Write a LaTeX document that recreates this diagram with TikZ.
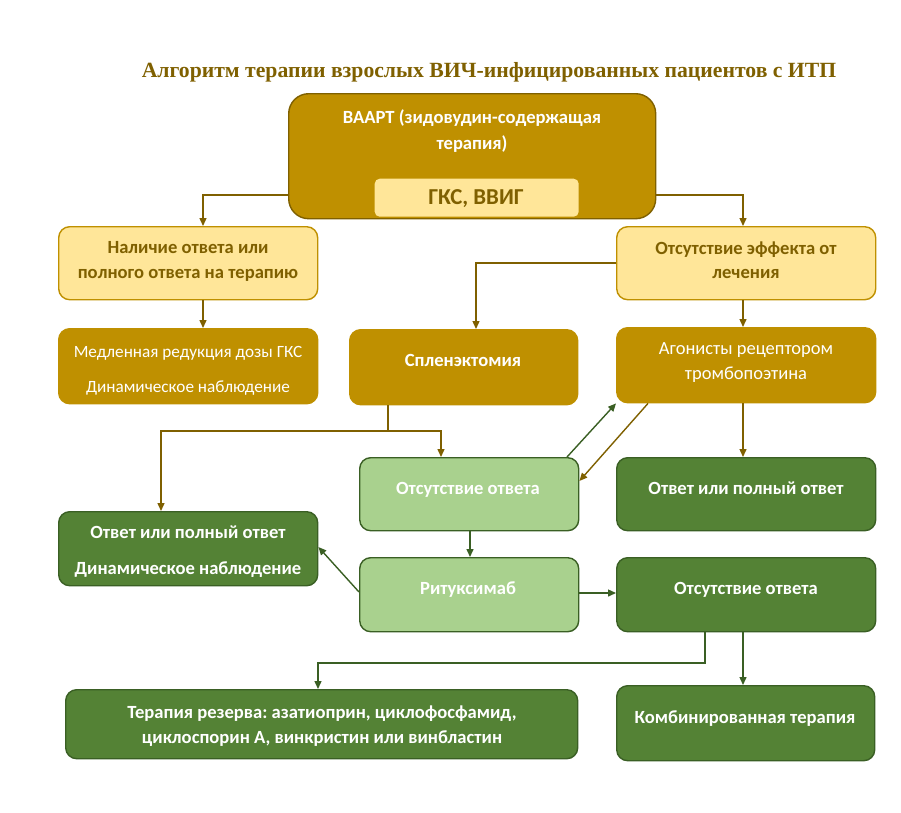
\documentclass[tikz,border=0pt]{standalone}
\usepackage{fontspec}
\setmainfont{Carlito}
\newfontfamily\titlefont{Liberation Serif}
\usetikzlibrary{arrows.meta,calc}
\frenchspacing
\definecolor{gold}{HTML}{BF9000}
\definecolor{dgold}{HTML}{7F6000}
\definecolor{lyel}{HTML}{FFE699}
\definecolor{lgreen}{HTML}{A9D18E}
\definecolor{dgreen}{HTML}{548235}
\definecolor{bgreen}{HTML}{3A5F24}
\begin{document}
\begin{tikzpicture}[x=1pt,y=-1pt,
  box/.style={rounded corners=11pt, line width=1.4pt, anchor=north west, inner sep=0pt},
  goldbox/.style={box, fill=gold, draw=gold},
  yelbox/.style={box, fill=lyel, draw=gold},
  lgbox/.style={box, fill=lgreen, draw=bgreen},
  dgbox/.style={box, fill=dgreen, draw=bgreen},
  txt/.style={anchor=mid, inner sep=0pt, font=\fontsize{18.5}{22}\selectfont},
  wb/.style={txt, text=white, font=\fontsize{18.6}{22}\selectfont\bfseries},
  wr/.style={txt, text=white},
  gb/.style={txt, text=dgold, font=\fontsize{18.6}{22}\selectfont\bfseries},
  garrow/.style={draw=dgold, line width=1.4pt, -{Triangle[length=8pt,width=7pt]}},
  gline/.style={draw=dgold, line width=1.4pt},
  grarrow/.style={draw=bgreen, line width=1.4pt, -{Triangle[length=8pt,width=7pt]}}
]
\useasboundingbox (0,0) rectangle (901,812);

% title
\node[anchor=mid, inner sep=0pt, text=dgold, font=\titlefont\fontsize{21.7}{26}\selectfont\bfseries] (title) at (489,75)
  {Алгоритм терапии взрослых ВИЧ-инфицированных пациентов с ИТП};

% boxes
\node[goldbox, draw=dgold, rounded corners=20pt, minimum width=367pt, minimum height=125pt] (top) at (288,93) {};
\node[box, fill=lyel, rounded corners=5pt, minimum width=204pt, minimum height=38pt] (gks) at (374,178) {};
\node[yelbox, minimum width=259pt, minimum height=73pt] (L1) at (58,226) {};
\node[yelbox, minimum width=259pt, minimum height=73pt] (R1) at (616,226) {};
\node[goldbox, minimum width=259pt, minimum height=75pt] (L2) at (58,328) {};
\node[goldbox, minimum width=228pt, minimum height=75pt] (S2) at (349,329) {};
\node[goldbox, minimum width=259pt, minimum height=75pt] (R2) at (616,327) {};
\node[lgbox, minimum width=219pt, minimum height=73pt] (M3) at (359,457) {};
\node[dgbox, minimum width=259pt, minimum height=73pt] (R3) at (616,457) {};
\node[dgbox, minimum width=259pt, minimum height=74pt] (L4) at (58,511) {};
\node[lgbox, minimum width=219pt, minimum height=74pt] (M4) at (359,557) {};
\node[dgbox, minimum width=259pt, minimum height=74pt] (R4) at (616,557) {};
\node[dgbox, minimum width=512pt, minimum height=69pt] (B1) at (65,689) {};
\node[dgbox, minimum width=258pt, minimum height=75pt] (B2) at (616,685) {};

% texts
\node[wb] (t1) at (472,121) {ВААРТ (зидовудин-содержащая};
\node[wb] (t2) at (472,147) {терапия)};
\node[txt, text=dgold, font=\fontsize{22.8}{26}\selectfont\bfseries] (t3) at (476,202) {ГКС, ВВИГ};
\node[gb] (t4) at (188,251) {Наличие ответа или};
\node[gb] (t5) at (188,276) {полного ответа на терапию};
\node[gb] (t6) at (746,252) {Отсутствие эффекта от};
\node[gb] (t7) at (746,276) {лечения};
\node[wr, font=\fontsize{17.2}{20}\selectfont] (t8) at (188,355) {Медленная редукция дозы ГКС};
\node[wr, font=\fontsize{17.2}{20}\selectfont] (t9) at (188,390) {Динамическое наблюдение};
\node[wb] (t10) at (463,364) {Спленэктомия};
\node[wr] (t11) at (746,352) {Агонисты рецептором};
\node[wr] (t12) at (746,377) {тромбопоэтина};
\node[wb] (t13) at (468,492) {Отсутствие ответа};
\node[wb] (t14) at (746,492) {Ответ или полный ответ};
\node[wb] (t15) at (188,536) {Ответ или полный ответ};
\node[wb] (t16) at (188,572) {Динамическое наблюдение};
\node[wb] (t17) at (468,592) {Ритуксимаб};
\node[wb] (t18) at (746,592) {Отсутствие ответа};
\node[wb] (t19) at (322,716) {Терапия резерва: азатиоприн, циклофосфамид,};
\node[wb] (t20) at (322,741) {циклоспорин А, винкристин или винбластин};
\node[wb] (t21) at (745,721) {Комбинированная терапия};

% connectors
\draw[garrow] (top.west |- 0,195) -| (203,0 |- L1.north);
\draw[garrow] (top.east |- 0,195) -| (743,0 |- R1.north);
\draw[garrow] (203,0 |- L1.south) -- (203,0 |- L2.north);
\draw[garrow] (R1.west |- 0,263) -| (476,0 |- S2.north);
\draw[garrow] (743,0 |- R1.south) -- (743,0 |- R2.north);
\coordinate (j) at (388,431);
\draw[gline] (388,0 |- S2.south) -- (j);
\draw[garrow] (j) -| (161,0 |- L4.north);
\draw[garrow] (j) -| (441,0 |- M3.north);
\draw[garrow] (648,0 |- R2.south) -- (M3.east |- 0,481);
\draw[grarrow] (567,0 |- M3.north) -- (R2.south west);
\draw[garrow] (743,0 |- R2.south) -- (743,0 |- R3.north);
\draw[grarrow] (470,0 |- M3.south) -- (470,0 |- M4.north);
\draw[grarrow] (M4.west |- 0,592) -- (L4.east |- 0,547);
\draw[grarrow] (M4.east |- 0,593) -- (R4.west |- 0,593);
\draw[grarrow] (705,0 |- R4.south) |- (318,663) -- (318,0 |- B1.north);
\draw[grarrow] (743,0 |- R4.south) -- (743,0 |- B2.north);
\end{tikzpicture}
\end{document}
